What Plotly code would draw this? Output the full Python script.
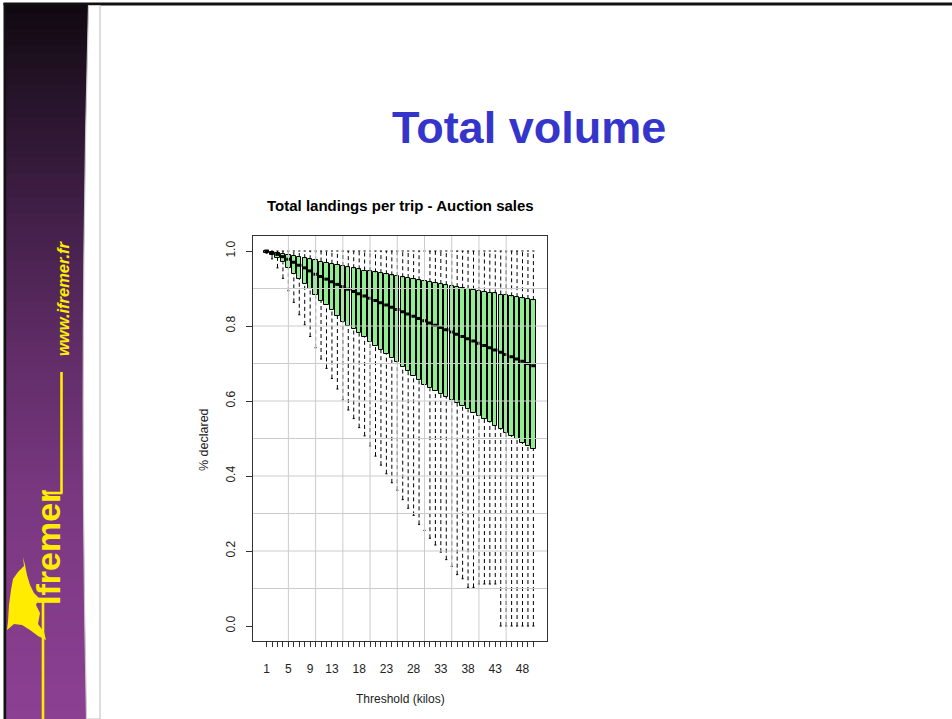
import plotly.graph_objects as go

# ---------------- data ----------------
thresholds = list(range(1, 51))
x_tick_labels = [1, 5, 9, 13, 18, 23, 28, 33, 38, 43, 48]
y_tick_values = [0.0, 0.2, 0.4, 0.6, 0.8, 1.0]

whisker_high = [1.0, 1.0, 1.0, 1.0, 1.0, 1.0, 1.0, 1.0, 1.0, 1.0,
                1.0, 1.0, 1.0, 1.0, 1.0, 1.0, 1.0, 1.0, 1.0, 1.0,
                1.0, 1.0, 1.0, 1.0, 1.0, 1.0, 1.0, 1.0, 1.0, 1.0,
                1.0, 1.0, 1.0, 1.0, 1.0, 1.0, 1.0, 1.0, 1.0, 1.0,
                1.0, 1.0, 1.0, 1.0, 1.0, 1.0, 1.0, 1.0, 1.0, 1.0]

q3 = [1.000, 0.998, 0.996, 0.993, 0.990, 0.987, 0.984, 0.981, 0.978, 0.975,
      0.972, 0.969, 0.966, 0.963, 0.960, 0.957, 0.954, 0.951, 0.948, 0.946,
      0.943, 0.941, 0.938, 0.935, 0.933, 0.930, 0.928, 0.925, 0.922, 0.920,
      0.917, 0.915, 0.912, 0.909, 0.907, 0.904, 0.902, 0.899, 0.897, 0.894,
      0.892, 0.889, 0.887, 0.884, 0.882, 0.879, 0.877, 0.874, 0.872, 0.869]

median = [1.000, 0.996, 0.991, 0.985, 0.978, 0.970, 0.962, 0.955, 0.947, 0.938,
          0.932, 0.925, 0.918, 0.911, 0.905, 0.898, 0.892, 0.886, 0.880, 0.874,
          0.868, 0.862, 0.856, 0.850, 0.844, 0.838, 0.832, 0.826, 0.820, 0.814,
          0.808, 0.802, 0.796, 0.790, 0.784, 0.778, 0.772, 0.766, 0.760, 0.754,
          0.748, 0.742, 0.736, 0.730, 0.724, 0.718, 0.712, 0.706, 0.700, 0.694]

q1 = [0.996, 0.990, 0.982, 0.970, 0.955, 0.940, 0.926, 0.912, 0.898, 0.882,
      0.868, 0.855, 0.842, 0.828, 0.812, 0.800, 0.791, 0.781, 0.770, 0.758,
      0.747, 0.736, 0.725, 0.715, 0.704, 0.692, 0.680, 0.668, 0.656, 0.642,
      0.634, 0.626, 0.618, 0.612, 0.603, 0.595, 0.586, 0.578, 0.569, 0.561,
      0.552, 0.543, 0.534, 0.525, 0.516, 0.507, 0.498, 0.489, 0.480, 0.472]

whisker_low = [0.994, 0.979, 0.955, 0.927, 0.894, 0.863, 0.830, 0.803, 0.772, 0.742,
               0.712, 0.687, 0.660, 0.632, 0.603, 0.576, 0.553, 0.529, 0.507, 0.480,
               0.453, 0.429, 0.406, 0.382, 0.362, 0.337, 0.314, 0.295, 0.271, 0.255,
               0.234, 0.216, 0.197, 0.177, 0.159, 0.137, 0.126, 0.103, 0.103, 0.112,
               0.112, 0.112, 0.112, 0.000, 0.000, 0.000, 0.000, 0.000, 0.000, 0.000]

grid_x = [5, 10, 15, 20, 25, 30, 35, 40, 45]
grid_y = [0.1, 0.2, 0.3, 0.4, 0.5, 0.6, 0.7, 0.8, 0.9]

# ---------------- page geometry ----------------
W, H = 952, 719
FONT = "Liberation Sans, Arial, sans-serif"


def fx(x):
    return x / W


def fy(y):
    return 1 - y / H


fig = go.Figure()

# whiskers (dashed)
wx, wy = [], []
for t, lo, a, b, hi in zip(thresholds, whisker_low, q1, q3, whisker_high):
    wx += [t, t, None, t, t, None]
    wy += [lo, a, None, b, hi, None]
fig.add_trace(go.Scatter(x=wx, y=wy, mode="lines",
                         line=dict(color="black", width=1, dash="4px,3px"),
                         hoverinfo="skip", showlegend=False))

# staples
cx, cy = [], []
for t, lo, hi in zip(thresholds, whisker_low, whisker_high):
    cx += [t - 0.2, t + 0.2, None, t - 0.2, t + 0.2, None]
    cy += [lo, lo, None, hi, hi, None]
fig.add_trace(go.Scatter(x=cx, y=cy, mode="lines",
                         line=dict(color="black", width=1),
                         hoverinfo="skip", showlegend=False))

# boxes
fig.add_trace(go.Bar(x=thresholds, base=q1,
                     y=[b - a for a, b in zip(q1, q3)],
                     width=0.8,
                     marker=dict(color="#90ee90", line=dict(color="black", width=1)),
                     hoverinfo="skip", showlegend=False))

# medians
mx, my = [], []
for t, m in zip(thresholds, median):
    mx += [t - 0.4, t + 0.4, None]
    my += [m, m, None]
fig.add_trace(go.Scatter(x=mx, y=my, mode="lines",
                         line=dict(color="black", width=3),
                         hoverinfo="skip", showlegend=False))

shapes = []

# ---- sidebar decoration ----
stops = [(5, (16, 8, 16)), (60, (30, 16, 32)), (200, (62, 30, 68)),
         (350, (96, 44, 103)), (500, (122, 56, 129)), (719, (140, 64, 146))]


def col_at(y):
    for (y0, c0), (y1, c1) in zip(stops[:-1], stops[1:]):
        if y0 <= y <= y1:
            f = (y - y0) / (y1 - y0)
            return "rgb(%d,%d,%d)" % tuple(round(c0[k] + f * (c1[k] - c0[k])) for k in range(3))
    return "rgb(%d,%d,%d)" % stops[-1][1]


step = 8
y = 5
while y < H:
    y2 = min(y + step, H)
    shapes.append(dict(type="rect", xref="paper", yref="paper",
                       x0=fx(6), x1=fx(95), y0=fy(y2 + 0.5), y1=fy(y),
                       fillcolor=col_at((y + y2) / 2), line=dict(width=0), layer="below"))
    y = y2

# left dark border and top dark bar
shapes.append(dict(type="rect", xref="paper", yref="paper",
                   x0=fx(3.5), x1=fx(6.2), y0=fy(H), y1=fy(3),
                   fillcolor="#111111", line=dict(width=0), layer="below"))
shapes.append(dict(type="rect", xref="paper", yref="paper",
                   x0=fx(3.5), x1=fx(952), y0=fy(5.5), y1=fy(2.5),
                   fillcolor="#111111", line=dict(width=0), layer="below"))

# white curved edge of content panel
path = "M %f,%f Q %f,%f %f,%f L %f,%f L %f,%f Z" % (
    fx(88.5), fy(5.5), fx(79), fy(360), fx(86.5), fy(719),
    fx(100), fy(719), fx(100), fy(5.5))
shapes.append(dict(type="path", xref="paper", yref="paper", path=path,
                   fillcolor="white", line=dict(color="#c8c8c8", width=1.2), layer="below"))

# yellow lines of the logo
YEL = "#ffec00"
shapes.append(dict(type="line", xref="paper", yref="paper",
                   x0=fx(61.5), x1=fx(61.5), y0=fy(372), y1=fy(493),
                   line=dict(color=YEL, width=2.6), layer="below"))
shapes.append(dict(type="line", xref="paper", yref="paper",
                   x0=fx(43), x1=fx(62.5), y0=fy(493), y1=fy(493),
                   line=dict(color=YEL, width=2.6), layer="below"))
shapes.append(dict(type="line", xref="paper", yref="paper",
                   x0=fx(43), x1=fx(43), y0=fy(600), y1=fy(719),
                   line=dict(color=YEL, width=2.6), layer="below"))

# bird
bird = [(23, 557), (24, 566), (18, 572), (13, 579), (11, 590), (9, 605), (8, 622),
        (7, 630), (14, 624), (22, 625), (30, 630), (38, 636), (46, 640), (44, 632),
        (38, 624), (40, 613), (36, 605), (39, 598), (34, 593), (30, 585), (27, 575), (25, 565)]
bpath = "M " + " L ".join("%f,%f" % (fx(a), fy(b)) for a, b in bird) + " Z"
shapes.append(dict(type="path", xref="paper", yref="paper", path=bpath,
                   fillcolor=YEL, line=dict(width=0), layer="below"))

# ---- grid drawn on top of the boxes ----
for gx in grid_x:
    shapes.append(dict(type="line", xref="x", yref="y domain", x0=gx, x1=gx, y0=0, y1=1,
                       line=dict(color="#cccccc", width=1), layer="above"))
for gy in grid_y:
    shapes.append(dict(type="line", xref="x domain", yref="y", x0=0, x1=1, y0=gy, y1=gy,
                       line=dict(color="#cccccc", width=1), layer="above"))

annotations = [
    dict(text="<b>Total volume</b>", x=fx(529), y=fy(128), xref="paper", yref="paper",
         showarrow=False, font=dict(family=FONT, size=45, color="#3535cc"),
         xanchor="center", yanchor="middle"),
    dict(text="<b>Total landings per trip - Auction sales</b>", x=fx(400), y=fy(206),
         xref="paper", yref="paper", showarrow=False,
         font=dict(family=FONT, size=15, color="black"), xanchor="center", yanchor="middle"),
    dict(text="% declared", x=fx(204), y=fy(440), xref="paper", yref="paper",
         showarrow=False, textangle=-90, font=dict(family=FONT, size=12.5, color="#222222"),
         xanchor="center", yanchor="middle"),
    dict(text="Threshold (kilos)", x=fx(400), y=fy(699), xref="paper", yref="paper",
         showarrow=False, font=dict(family=FONT, size=12, color="#222222"),
         xanchor="center", yanchor="middle"),
    dict(text="<b><i>www.ifremer.fr</i></b>", x=fx(63), y=fy(298), xref="paper", yref="paper",
         showarrow=False, textangle=-90, font=dict(family=FONT, size=16.5, color=YEL),
         xanchor="center", yanchor="middle"),
    dict(text="<b>Ifremer</b>", x=fx(48), y=fy(548), xref="paper", yref="paper",
         showarrow=False, textangle=-90, font=dict(family=FONT, size=34, color=YEL),
         xanchor="center", yanchor="middle"),
]

fig.update_layout(
    width=W, height=H,
    margin=dict(l=0, r=0, t=0, b=0),
    paper_bgcolor="white", plot_bgcolor="white",
    showlegend=False,
    shapes=shapes,
    annotations=annotations,
    bargap=0,
    xaxis=dict(domain=[fx(253), fx(547)], range=[-1.5, 52.5],
               tickvals=thresholds,
               ticktext=[str(t) if t in x_tick_labels else "" for t in thresholds],
               ticks="outside", ticklen=5, tickwidth=1, tickcolor="#333333",
               showline=True, linecolor="#333333", linewidth=1, mirror=True,
               showgrid=False, zeroline=False, ticklabelstandoff=12,
               tickfont=dict(family=FONT, size=12, color="#222222")),
    yaxis=dict(domain=[fy(641), fy(236)], range=[-0.04, 1.04],
               tickvals=y_tick_values,
               ticktext=["%.1f" % v for v in y_tick_values],
               tickangle=-90,
               ticks="outside", ticklen=6, tickwidth=1, tickcolor="#333333",
               showline=True, linecolor="#333333", linewidth=1, mirror=True,
               showgrid=False, zeroline=False, ticklabelstandoff=6,
               tickfont=dict(family=FONT, size=12, color="#222222")),
)

fig.write_html("out.html",
               config={"displayModeBar": False},
               post_script="document.body.style.margin='0px';document.body.style.overflow='hidden';")
